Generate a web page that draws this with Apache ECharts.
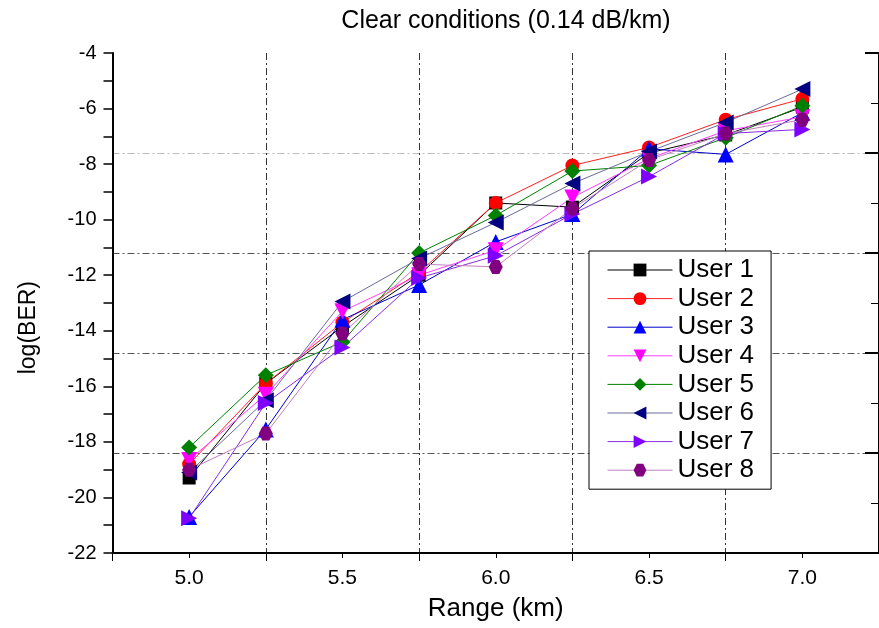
<!DOCTYPE html>
<html>
<head>
<meta charset="utf-8">
<script src="https://cdn.jsdelivr.net/npm/echarts@6/dist/echarts.min.js"></script>
<style>html,body{margin:0;padding:0;background:#fff;}#c{width:879px;height:628px;}</style>
</head>
<body>
<div id="c"></div>
<script>
const titleText = 'Clear conditions (0.14 dB/km)';
const xName = 'Range (km)';
const yName = 'log(BER)';
const ranges = [5.0, 5.25, 5.5, 5.75, 6.0, 6.25, 6.5, 6.75, 7.0];
const userNames = ['User 1', 'User 2', 'User 3', 'User 4', 'User 5', 'User 6', 'User 7', 'User 8'];
const user1 = [-19.3, -15.9, -13.85, -12.0, -9.4, -9.55, -7.6, -6.95, -5.95];
const user2 = [-18.8, -15.9, -13.7, -11.9, -9.4, -8.05, -7.4, -6.4, -5.65];
const user3 = [-20.7, -17.55, -13.6, -12.35, -10.8, -9.8, -7.45, -7.65, -6.15];
const user4 = [-18.65, -16.3, -13.3, -12.0, -11.1, -9.2, -7.8, -6.8, -6.3];
const user5 = [-18.2, -15.6, -14.4, -11.2, -9.85, -8.25, -8.05, -7.05, -5.9];
const user6 = [-19.1, -16.5, -12.95, -11.4, -10.1, -8.7, -7.55, -6.5, -5.3];
const user7 = [-20.75, -16.6, -14.6, -12.1, -11.3, -9.8, -8.45, -6.9, -6.75];
const user8 = [-19.0, -17.7, -14.1, -11.6, -11.7, -9.6, -7.85, -6.9, -6.4];
const yTicks = [-22, -20, -18, -16, -14, -12, -10, -8, -6, -4];

const values = [user1, user2, user3, user4, user5, user6, user7, user8];
const colors = ['#000000', '#ff0000', '#0000ff', '#ff00ff', '#008000', '#000080', '#8000ff', '#800080'];
const lineColors = ['#000000', '#ff2020', '#0000cc', '#ff40ff', '#008000', '#6a6a9a', '#8a2be2', '#c080c0'];
const hexPath = 'path://M25,6.7 L75,6.7 L100,50 L75,93.3 L25,93.3 L0,50 Z';
const symbols = ['rect', 'circle', 'triangle', 'triangle', 'diamond', 'triangle', 'triangle', hexPath];
const rotates = [0, 0, 0, 180, 0, 90, -90, 0];
const sizes = [13, 14, 16, 16, 16, 16, 16, 14];

const FONT = 'Arial, "Liberation Sans", sans-serif';
const chart = echarts.init(document.getElementById('c'), null, {renderer: 'canvas'});

const series = values.map((vals, i) => ({
  name: userNames[i],
  type: 'line',
  xAxisIndex: 0,
  yAxisIndex: 0,
  data: ranges.map((x, j) => [x, vals[j]]),
  symbol: symbols[i],
  symbolSize: sizes[i],
  symbolRotate: rotates[i],
  showAllSymbol: true,
  itemStyle: {color: colors[i]},
  lineStyle: {color: lineColors[i], width: 1},
  emphasis: {disabled: true},
  animation: false,
  z: 3
}));

const option = {
  backgroundColor: '#ffffff',
  animation: false,
  title: {
    text: titleText,
    left: 501,
    textAlign: 'center',
    top: 4,
    textStyle: {fontFamily: FONT, fontSize: 25, fontWeight: 'normal', color: '#000'}
  },
  grid: {left: 112.5, top: 53, width: 774, height: 500, containLabel: false},
  legend: {
    orient: 'vertical',
    left: 589,
    top: 251,
    itemWidth: 65,
    itemHeight: 16,
    itemGap: 2.6,
    padding: [6, 17, 6, 18],
    backgroundColor: '#ffffff',
    borderColor: '#000000',
    borderWidth: 1,
    borderRadius: 0,
    selectedMode: false,
    data: userNames,
    lineStyle: {width: 1},
    textStyle: {fontFamily: FONT, fontSize: 26, lineHeight: 25, color: '#000'}
  },
  xAxis: [
    {
      type: 'value',
      min: 4.75,
      max: 7.25,
      interval: 0.25,
      position: 'bottom',
      axisLine: {show: true, onZero: false, lineStyle: {color: '#000', width: 2}},
      axisTick: {show: true, inside: false, length: 5, lineStyle: {color: '#000', width: 1}},
      axisLabel: {
        show: true,
        margin: 15,
        fontFamily: FONT,
        fontSize: 21,
        color: '#000',
        showMinLabel: false,
        showMaxLabel: false,
        formatter: function (v) {
          const d = v * 2;
          if (Math.abs(d - Math.round(d)) < 1e-6 && v > 4.8 && v < 7.2) return v.toFixed(1);
          return '';
        }
      },
      splitLine: {show: false},
      name: xName,
      nameLocation: 'middle',
      nameGap: 43,
      nameTextStyle: {fontFamily: FONT, fontSize: 26, color: '#000'}
    },
    {
      type: 'value',
      min: 0,
      max: 2.5,
      interval: 0.5,
      position: 'bottom',
      axisLine: {show: false},
      axisTick: {show: true, inside: false, length: 8, lineStyle: {color: '#000', width: 1}},
      axisLabel: {show: false},
      splitLine: {show: true, lineStyle: {color: '#333333', width: 1, type: [7, 3, 2, 3]}}
    }
  ],
  yAxis: [
    {
      type: 'value',
      min: yTicks[0],
      max: yTicks[yTicks.length - 1],
      interval: 2,
      position: 'left',
      axisLine: {show: true, onZero: false, lineStyle: {color: '#000', width: 2}},
      axisTick: {show: true, inside: false, length: 9, lineStyle: {color: '#000', width: 1.5}},
      minorTick: {show: true, splitNumber: 2, length: 9, lineStyle: {color: '#000', width: 1.5}},
      axisLabel: {margin: 16, fontFamily: FONT, fontSize: 20, color: '#000'},
      splitLine: {show: false}
    },
    {
      type: 'value',
      min: 0,
      max: 5,
      interval: 1,
      position: 'right',
      axisLine: {show: true, onZero: false, lineStyle: {color: '#000', width: 2}},
      axisTick: {show: true, inside: true, length: 14, lineStyle: {color: '#000', width: 2}},
      minorTick: {show: true, splitNumber: 2, length: 8, lineStyle: {color: '#000', width: 1}},
      axisLabel: {show: false},
      splitLine: {show: true, lineStyle: {color: ['rgba(0,0,0,0)', '#555555', '#555555', '#555555', '#bbbbbb', 'rgba(0,0,0,0)'], width: 1, type: [7, 3, 2, 3]}}
    }
  ],
  graphic: [
    {
      type: 'text',
      left: 17,
      top: 281,
      rotation: Math.PI / 2,
      style: {text: yName, fontFamily: FONT, fontSize: 23, fill: '#000'}
    }
  ],
  series: series
};
chart.setOption(option);
</script>
</body>
</html>
